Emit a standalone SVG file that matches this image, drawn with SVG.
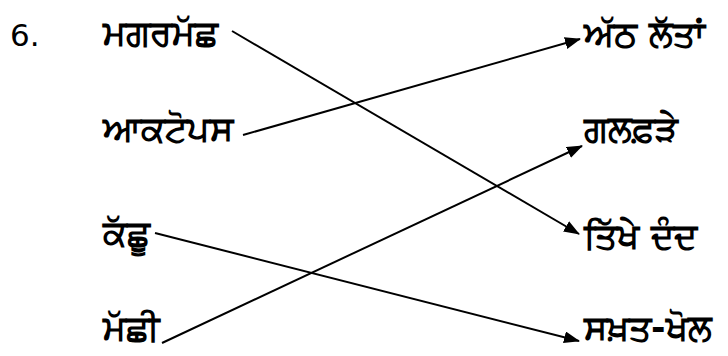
<svg xmlns="http://www.w3.org/2000/svg" width="728" height="356" viewBox="0 0 728 356">
<style>
text{font-family:"DejaVu Sans","Noto Sans",sans-serif;font-size:35px;font-weight:bold;fill:#000}
text.n{font-size:31px;font-weight:normal}
.c{stroke:#000;stroke-width:2;fill:none}
</style>
<defs>
<marker id="ah" markerUnits="userSpaceOnUse" markerWidth="16" markerHeight="12" refX="15" refY="6" orient="auto">
<path d="M0,0 L16,6 L0,12 Z" fill="#000"/>
</marker>
</defs>
<rect width="728" height="356" fill="#fff"/>
<g id="num"><text class="n" x="10" y="46">6.</text></g>
<g id="l1"><text x="103" y="45">ਮਗਰਮੱਛ</text></g>
<g id="l2"><text x="103" y="141">ਆਕਟੋਪਸ</text></g>
<g id="l3"><text x="103" y="245">ਕੱਛੂ</text></g>
<g id="l4"><text x="103" y="340">ਮੱਛੀ</text></g>
<g id="r1"><text x="584" y="46">ਅੱਠ ਲੱਤਾਂ</text></g>
<g id="r2"><text x="584" y="141">ਗਲਫ਼ੜੇ</text></g>
<g id="r3"><text x="584" y="248">ਤਿੱਖੇ ਦੰਦ</text></g>
<g id="r4"><text x="584" y="340">ਸਖ਼ਤ-ਖੋਲ</text></g>
<g id="connectors">
<line class="c" x1="232" y1="31" x2="579" y2="234" marker-end="url(#ah)"/>
<line class="c" x1="243" y1="135" x2="580" y2="39" marker-end="url(#ah)"/>
<line class="c" x1="155" y1="233" x2="579" y2="341" marker-end="url(#ah)"/>
<line class="c" x1="162" y1="343" x2="582" y2="146" marker-end="url(#ah)"/>
</g>
</svg>
